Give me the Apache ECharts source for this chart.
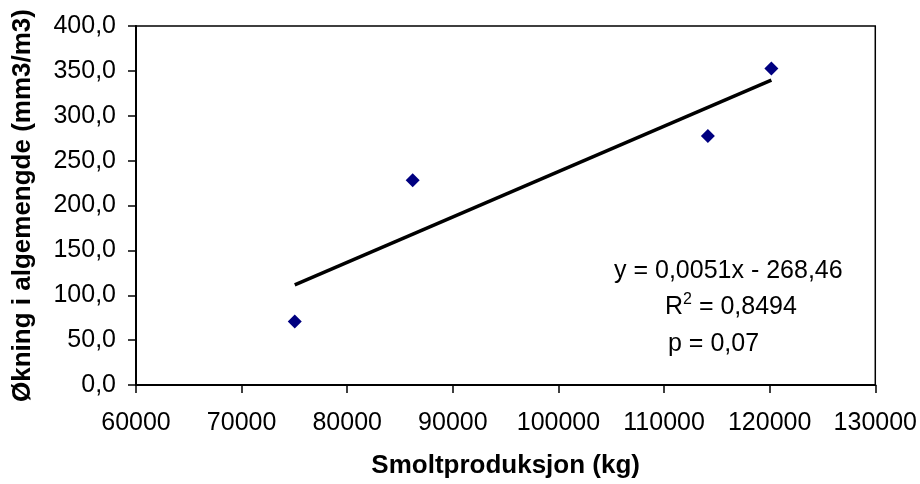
<!DOCTYPE html>
<html>
<head>
<meta charset="utf-8">
<script src="https://cdn.jsdelivr.net/npm/echarts@6/dist/echarts.min.js"></script>
<style>html,body{margin:0;padding:0;background:#fff;}#c{width:920px;height:484px;}</style>
</head>
<body>
<div id="c"></div>
<script>
const smoltX = [75030, 86200, 114150, 120160];
const algeY = [70.8, 228.1, 277.4, 352.6];
const xTicks = [60000, 130000, 10000];
const yTicks = [0, 400, 50];
const eqText = 'y = 0,0051x - 268,46';
const r2Text = '0,8494';
const pText = 'p = 0,07';

// least-squares trend line from data
const n = smoltX.length;
const mx = smoltX.reduce((a,b)=>a+b,0)/n;
const my = algeY.reduce((a,b)=>a+b,0)/n;
let sxy=0,sxx=0;
for(let i=0;i<n;i++){sxy+=(smoltX[i]-mx)*(algeY[i]-my);sxx+=(smoltX[i]-mx)**2;}
const slope = sxy/sxx, icpt = my - slope*mx;
const xMin = Math.min(...smoltX), xMax = Math.max(...smoltX);
const trend = [[xMin, slope*xMin+icpt],[xMax, slope*xMax+icpt]];

const FONT = 'Liberation Sans, Arial, sans-serif';
const FS = 25;
const chart = echarts.init(document.getElementById('c'));
chart.setOption({
  animation:false,
  backgroundColor:'#fff',
  grid:{left:136,right:42,top:26,bottom:98,show:true,borderColor:'#000',borderWidth:1.5,backgroundColor:'transparent'},
  xAxis:{type:'value',min:xTicks[0],max:xTicks[1],interval:xTicks[2],
    name:'Smoltproduksjon (kg)',nameLocation:'middle',nameGap:68,
    nameTextStyle:{fontFamily:FONT,fontWeight:'bold',fontSize:26,color:'#000'},
    axisLine:{show:true,onZero:false,lineStyle:{color:'#000',width:2}},
    axisTick:{show:true,length:8,lineStyle:{color:'#000',width:1.5}},
    axisLabel:{fontFamily:FONT,fontSize:FS,color:'#000',margin:26,formatter:v=>String(v)},
    splitLine:{show:false}},
  yAxis:{type:'value',min:yTicks[0],max:yTicks[1],interval:yTicks[2],
    name:'Økning i algemengde (mm3/m3)',nameLocation:'middle',nameGap:100,nameRotate:90,
    nameTextStyle:{fontFamily:FONT,fontWeight:'bold',fontSize:26,color:'#000'},
    axisLine:{show:true,onZero:false,lineStyle:{color:'#000',width:2}},
    axisTick:{show:true,length:8,lineStyle:{color:'#000',width:1.5}},
    axisLabel:{fontFamily:FONT,fontSize:FS,color:'#000',margin:20,formatter:v=>v.toFixed(1).replace('.',',')},
    splitLine:{show:false}},
  series:[
    {type:'line',data:trend,symbol:'none',lineStyle:{color:'#000',width:3.5},z:2},
    {type:'scatter',data:smoltX.map((x,i)=>[x,algeY[i]]),symbol:'diamond',symbolSize:14,itemStyle:{color:'#000080',opacity:1},z:3}
  ],
  graphic:[
    {type:'text',left:614,top:259,style:{text:eqText,font:FS+'px '+FONT,fill:'#000'}},
    {type:'text',left:665,top:292,style:{text:'{a|R}{s|2}{a| = '+r2Text+'}',fill:'#000',
      rich:{a:{fontFamily:FONT,fontSize:FS,verticalAlign:'bottom'},s:{fontFamily:FONT,fontSize:16,verticalAlign:'top',padding:[0,0,12,0]}}}},
    {type:'text',left:668,top:332,style:{text:pText,font:FS+'px '+FONT,fill:'#000'}}
  ]
});
</script>
</body>
</html>
